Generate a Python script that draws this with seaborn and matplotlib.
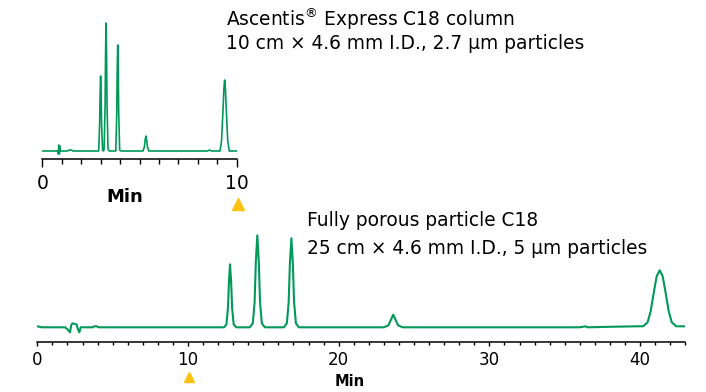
import seaborn as sns
import matplotlib.pyplot as plt

# fast column (Ascentis Express), minutes vs signal
fast_time = [0.0, 0.78, 0.82, 0.85, 0.88, 0.9, 0.93, 1.3, 1.38, 1.5, 1.58,
             2.9, 2.95, 2.975, 3.0, 3.025, 3.05, 3.1,
             3.15, 3.18, 3.23, 3.255, 3.28, 3.305, 3.33, 3.38, 3.45,
             3.78, 3.83, 3.855, 3.88, 3.905, 3.93, 3.98, 4.05,
             5.18, 5.25, 5.29, 5.33, 5.37, 5.41, 5.48,
             8.5, 8.6, 8.7,
             9.14, 9.22, 9.3, 9.34, 9.38, 9.42, 9.46, 9.54, 9.62, 10.0]
fast_signal = [0, 0, -3, 6, -3, 5, 0, 0, 1, 1, 0,
               0, 27, 58, 75, 58, 27, 1,
               0, 2, 46, 99, 128, 99, 46, 2, 0,
               0, 38, 82, 106, 82, 38, 1, 0,
               0, 4, 11, 15, 11, 4, 0,
               0, 1, 0,
               0, 10, 43, 62, 71, 62, 43, 10, 0, 0]

# fully porous column
slow_time = [0.0, 0.3, 1.85, 2.0, 2.17, 2.25, 2.33, 2.6, 2.7, 2.79, 2.88,
             3.7, 3.76, 3.95, 4.05,
             12.4, 12.55, 12.65, 12.72, 12.79, 12.86, 12.93, 13.03, 13.2,
             14.1, 14.3, 14.42, 14.5, 14.6, 14.7, 14.78, 14.9, 15.1,
             16.36, 16.56, 16.68, 16.76, 16.86, 16.96, 17.04, 17.16, 17.36,
             23.0, 23.3, 23.45, 23.62, 23.79, 23.94, 24.25,
             36.0, 36.4, 36.5, 38.0, 39.8,
             40.2, 40.5, 40.7, 40.9, 41.1, 41.3, 41.5, 41.7, 41.9, 42.1, 42.4, 43.0]
slow_signal = [1, 0, 0, -2, -5, 2, 4, 3, -2, -5, 0,
               0, 1, 1, 0,
               0, 3, 19, 46, 63, 46, 19, 3, 0,
               0, 4, 25, 65, 92, 65, 25, 4, 0,
               0, 4, 25, 63, 89, 63, 25, 4, 0,
               0, 2, 7, 12.6, 7, 2, 0,
               0, 1, 0, 0.5, 1,
               1, 5, 16, 34, 51, 57, 51, 34, 16, 5, 1, 1]

fast_title = ["Ascentis$^{\\circledR}$ Express C18 column",
              "10 cm \u00d7 4.6 mm I.D., 2.7 \u00b5m particles"]
slow_title = ["Fully porous particle C18",
              "25 cm \u00d7 4.6 mm I.D., 5 \u00b5m particles"]

green = '#00995a'
gold = '#ffc20e'

sns.set_style('white')
plt.rcParams['font.family'] = ['DejaVu Sans']
plt.rcParams['text.color'] = 'black'
plt.rcParams['xtick.color'] = 'black'
plt.rcParams['xtick.labelcolor'] = 'black'

W, H = 706, 392
fig = plt.figure(figsize=(W / 100, H / 100), dpi=100)


def px_axes(x0, x1, ytop, ybot):
    return fig.add_axes([x0 / W, 1 - ybot / H, (x1 - x0) / W, (ybot - ytop) / H])


ax1 = px_axes(42.3, 236.7, 20, 159)
ax2 = px_axes(37.3, 685.3, 230, 341.7)

sns.lineplot(x=fast_time, y=fast_signal, ax=ax1, color=green, linewidth=1.2,
             estimator=None, sort=False)
sns.lineplot(x=slow_time, y=slow_signal, ax=ax2, color=green, linewidth=1.5,
             estimator=None, sort=False)

ax1.set_xlim(0, 10)
ax1.set_ylim(-8, 131)
ax2.set_xlim(0, 43)
ax2.set_ylim(-14.4, 97.3)

for ax in (ax1, ax2):
    for s in ('left', 'right', 'top'):
        ax.spines[s].set_visible(False)
    ax.spines['bottom'].set_color('black')
    ax.spines['bottom'].set_linewidth(1.1)
    ax.set_yticks([])
    ax.set_xlabel('')
    ax.set_ylabel('')
    ax.set_xticks(range(0, int(ax.get_xlim()[1]) + 1), minor=True)

ax1.set_xticks([0, 10])
ax1.tick_params(axis='x', which='major', direction='out', length=5.5, width=1,
                labelsize=13.5, pad=5, bottom=True, labelcolor='black')
ax1.tick_params(axis='x', which='minor', direction='out', length=3.6, width=1,
                bottom=True)
ax2.set_xticks([0, 10, 20, 30, 40])
ax2.tick_params(axis='x', which='major', direction='out', length=3.2, width=1,
                labelsize=12, pad=3.5, bottom=True, labelcolor='black')
ax2.tick_params(axis='x', which='minor', direction='out', length=1.8, width=1,
                bottom=True)

ax1.text(4.25, -0.27, 'Min', transform=ax1.get_xaxis_transform(), ha='center',
         va='center', fontsize=13, fontweight='bold', color='black')
ax2.text(20.7, -0.36, 'Min', transform=ax2.get_xaxis_transform(), ha='center',
         va='center', fontsize=10.5, fontweight='bold', color='black')

ax1.plot([10.05], [-0.324], marker='^', ms=9, color=gold, clip_on=False,
         transform=ax1.get_xaxis_transform())
ax2.plot([10.05], [-0.32], marker='^', ms=7, color=gold, clip_on=False,
         transform=ax2.get_xaxis_transform())

for i, line in enumerate(fast_title):
    fig.text(226 / W, 1 - (26 + 23 * i) / H, line, fontsize=13.4,
             va='baseline', color='black')
for i, line in enumerate(slow_title):
    fig.text(307 / W, 1 - (226 + 27.5 * i) / H, line, fontsize=13.4,
             va='baseline', color='black')

fig.savefig('out.png', dpi=100)
